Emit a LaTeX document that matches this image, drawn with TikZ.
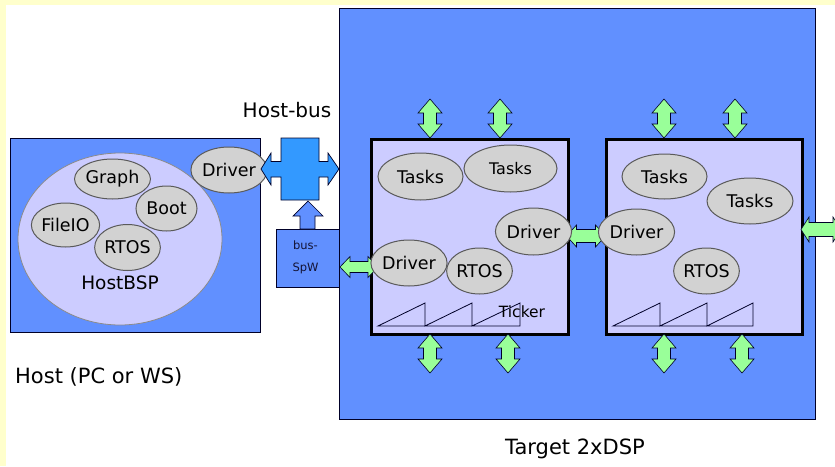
\documentclass[tikz,border=0pt]{standalone}
\usepackage{fontspec}
\setmainfont{DejaVu Sans}
\usetikzlibrary{shapes.geometric}
\definecolor{yellowbg}{RGB}{255,255,204}
\definecolor{tblue}{RGB}{97,144,255}
\definecolor{busblue}{RGB}{51,153,255}
\definecolor{chipfill}{RGB}{204,204,255}
\definecolor{ellgray}{RGB}{210,210,210}
\definecolor{ellline}{RGB}{90,90,90}
\definecolor{arrgreen}{RGB}{153,255,153}
\definecolor{navy}{RGB}{0,0,40}
\tikzset{
  ell/.style={ellipse, draw=ellline, line width=1pt, fill=ellgray, inner sep=0pt, font=\fontsize{17.5}{20}\selectfont},
  bluebox/.style={draw=navy, line width=0.8pt, fill=tblue, inner sep=0pt, anchor=north west},
  chipbox/.style={draw=black, line width=3pt, fill=chipfill, inner sep=0pt, anchor=north west},
  lbl/.style={inner sep=0pt, font=\fontsize{20}{24}\selectfont},
  blockarrow/.style={draw=navy, line width=0.6pt, fill=arrgreen},
  pics/dbl/.style args={#1/#2/#3/#4}{code={
    \draw[blockarrow] (-#1,0) -- (-#1+#2,-#3) -- (-#1+#2,-#4) -- (#1-#2,-#4) -- (#1-#2,-#3) -- (#1,0)
      -- (#1-#2,#3) -- (#1-#2,#4) -- (-#1+#2,#4) -- (-#1+#2,#3) -- cycle;}},
}
\begin{document}
\begin{tikzpicture}[x=1pt,y=-1pt]
\useasboundingbox (0,0) rectangle (835,466);
\fill[yellowbg] (0,0) rectangle (835,466);
\fill[white] (6,5) rectangle (835,466);

% Target
\node[bluebox, minimum width=476pt, minimum height=411pt] (target) at (339,8) {};
\node[lbl, font=\fontsize{21}{25}\selectfont] (targetlbl) at (575,449) {Target 2xDSP};

% Host
\node[bluebox, minimum width=250pt, minimum height=194pt] (host) at (10,138) {};
\node[ellipse, draw=ellline!70, line width=0.8pt, fill=chipfill, minimum width=204pt, minimum height=172pt, inner sep=0pt] (hostbsp) at (120,239) {};
\node[inner sep=0pt, font=\fontsize{18.5}{22}\selectfont] (hostbsplbl) at (120,283) {HostBSP};
\node[ell, minimum width=61pt, minimum height=40pt] (graph) at (112.5,179) {Graph};
\node[ell, minimum width=61pt, minimum height=45pt] (boot) at (166.5,208.5) {Boot};
\node[ell, minimum width=62pt, minimum height=44pt] (fileio) at (65.5,225) {FileIO};
\node[ell, minimum width=62pt, minimum height=46pt] (rtosh) at (127.5,247.5) {RTOS};
\node[ell, minimum width=62pt, minimum height=46pt] (driverh) at (229,170) {Driver};
\node[lbl, font=\fontsize{21}{25}\selectfont, anchor=west] (hostlbl) at (15,377) {Host (PC or WS)};

% Host-bus cross
\node[lbl] (hostbuslbl) at (287,110) {Host-bus};
\draw[draw=navy, line width=0.7pt, fill=busblue] (261,169) -- (271,153) -- (271,161.5) -- (281,161.5) -- (281,138) -- (319,138) -- (319,161.5)
  -- (328,161.5) -- (328,153) -- (339,169) -- (328,185) -- (328,177) -- (319,177) -- (319,200) -- (281,200) -- (281,177)
  -- (271,177) -- (271,185) -- cycle;

% bus-SpW
\node[bluebox, minimum width=63pt, minimum height=58pt] (busspw) at (276,229) {};
\node[inner sep=0pt, text=navy!85!gray, font=\fontsize{11.5}{13}\selectfont] (busspw1) at (305.5,245) {bus-};
\node[inner sep=0pt, text=navy!85!gray, font=\fontsize{11.5}{13}\selectfont] (busspw2) at (305.5,268) {SpW};
\draw[draw=navy, line width=0.7pt, fill=tblue] (308,201) -- (323,216) -- (315,216) -- (315,229) -- (300,229) -- (300,216) -- (293,216) -- cycle;

% Chips
\node[chipbox, minimum width=197pt, minimum height=195pt] (chip1) at (370,138) {};
\node[chipbox, minimum width=196pt, minimum height=195pt] (chip2) at (605,138) {};

% green arrows
\pic at (430,118.5) [rotate=90] {dbl=19.5/14/12/6.5};
\pic at (500,118.5) [rotate=90] {dbl=19.5/14/12/6.5};
\pic at (664,118.5) [rotate=90] {dbl=19.5/14/12/6.5};
\pic at (735,118.5) [rotate=90] {dbl=19.5/14/12/6.5};
\pic at (430,353.5) [rotate=90] {dbl=19.5/14/12/6.5};
\pic at (508,353.5) [rotate=90] {dbl=19.5/14/12/6.5};
\pic at (664,353.5) [rotate=90] {dbl=19.5/14/12/6.5};
\pic at (742,353.5) [rotate=90] {dbl=19.5/14/12/6.5};
\pic at (359,267) {dbl=19/10/10.5/5.5};
\pic at (586,236) {dbl=19.5/10/11/6.5};
\begin{scope}
\clip (0,0) rectangle (835,466);
\pic at (821,229.5) {dbl=20/8/12.5/7};
\end{scope}

% chip 1 contents
\node[ell, minimum width=85pt, minimum height=47pt] (tasks11) at (420.5,176.5) {Tasks};
\node[ell, minimum width=93pt, minimum height=47pt, font=\fontsize{16}{19}\selectfont] (tasks12) at (510.5,168.5) {Tasks};
\node[ell, minimum width=61pt, minimum height=47pt] (driver1r) at (533.5,231.5) {Driver};
\node[ell, minimum width=62pt, minimum height=46pt] (driver1l) at (409,263) {Driver};
\node[ell, minimum width=63pt, minimum height=46pt] (rtos1) at (479.5,271) {RTOS};
\draw[navy, line width=0.8pt] (378,326) -- (425,303) -- (425,326) -- (472,303) -- (472,326) -- (520,303) -- (520,326) -- cycle;
\node[inner sep=0pt, font=\fontsize{15.5}{18}\selectfont] (ticker) at (522,312) {Ticker};

% chip 2 contents
\node[ell, minimum width=85pt, minimum height=45pt] (tasks21) at (664.5,176.5) {Tasks};
\node[ell, minimum width=86pt, minimum height=46pt] (tasks22) at (750,201) {Tasks};
\node[ell, minimum width=61pt, minimum height=46pt] (driver2) at (636.5,232) {Driver};
\node[ell, minimum width=62pt, minimum height=46pt] (rtos2) at (706.5,271) {RTOS};
\draw[navy, line width=0.8pt] (613,326) -- (660,303) -- (660,326) -- (707,303) -- (707,326) -- (753,303) -- (753,326) -- cycle;
\end{tikzpicture}
\end{document}
